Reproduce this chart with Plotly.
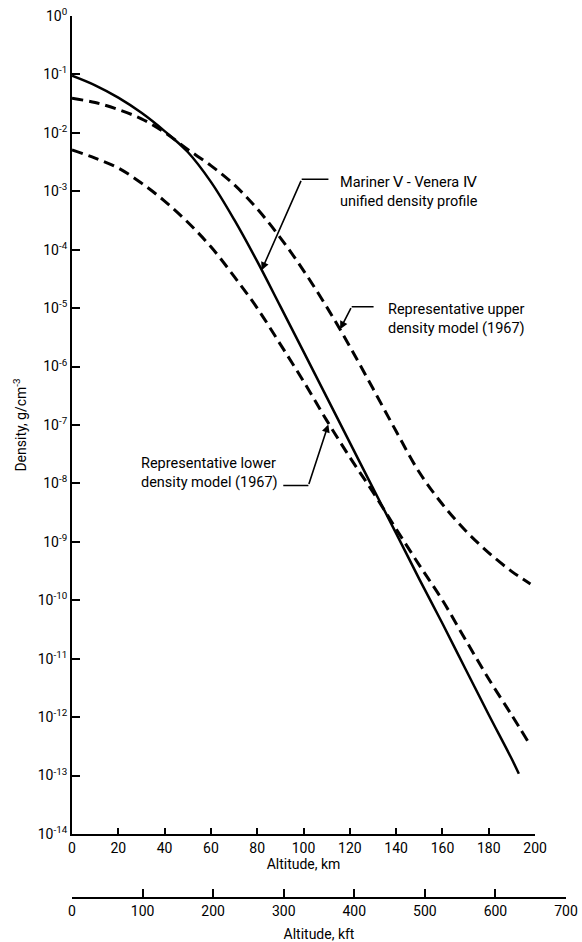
import plotly.graph_objects as go

# ---- data ----
mariner_km = [0, 10, 20, 30, 40, 50, 60, 70, 80, 90, 100, 110, 120, 130, 140, 150, 160, 170, 180, 190, 193]
mariner_density = [9.5e-2, 6.5e-2, 4.0e-2, 2.2e-2, 1.07e-2, 4.7e-3, 1.45e-3, 3.3e-4, 6.3e-5, 1.07e-5,
                   1.8e-6, 3.0e-7, 5.0e-8, 8.3e-9, 1.4e-9, 2.3e-10, 4.0e-11, 6.6e-12, 1.1e-12, 1.9e-13, 1.07e-13]

upper_km = [0, 10, 20, 30, 40, 50, 60, 70, 80, 90, 100, 110, 120, 130, 140, 150, 160, 170, 180, 190, 198]
upper_density = [3.9e-2, 3.3e-2, 2.5e-2, 1.74e-2, 1.02e-2, 5.2e-3, 2.75e-3, 1.3e-3, 5.0e-4, 1.6e-4,
                 4.4e-5, 1.05e-5, 2.2e-6, 4.2e-7, 7.8e-8, 1.55e-8, 4.4e-9, 1.55e-9, 6.5e-10, 3.1e-10, 1.9e-10]

lower_km = [0, 10, 20, 30, 40, 50, 60, 70, 80, 90, 100, 110, 120, 130, 140, 150, 160, 170, 180, 190, 197]
lower_density = [5.1e-3, 3.7e-3, 2.5e-3, 1.38e-3, 6.8e-4, 2.95e-4, 1.12e-4, 3.5e-5, 1.0e-5, 2.4e-6,
                 5.6e-7, 1.2e-7, 2.8e-8, 7.1e-9, 1.66e-9, 4.0e-10, 1.0e-10, 2.1e-11, 4.5e-12, 1.07e-12, 3.8e-13]

y_exponents = list(range(0, -15, -1))
y_tick_labels = ["10<sup>%d</sup>" % e for e in y_exponents]
km_ticks = list(range(0, 201, 20))
kft_ticks = list(range(0, 701, 100))

mariner_label = "Mariner Ⅴ - Venera Ⅳ<br>unified density profile"
upper_label = "Representative upper<br>density model (1967)"
lower_label = "Representative lower<br>density model (1967)"

FONT = "Roboto, Liberation Sans Narrow, sans-serif"

KM_PER_KFT = 0.3048

fig = go.Figure()
fig.add_trace(go.Scatter(x=mariner_km, y=mariner_density, mode="lines", line_shape="spline",
                         line=dict(color="black", width=2.5), showlegend=False, hoverinfo="skip"))
fig.add_trace(go.Scatter(x=upper_km, y=upper_density, mode="lines", line_shape="spline",
                         line=dict(color="black", width=3, dash="11px,6px"), showlegend=False, hoverinfo="skip"))
fig.add_trace(go.Scatter(x=lower_km, y=lower_density, mode="lines", line_shape="spline",
                         line=dict(color="black", width=3, dash="11px,6px"), showlegend=False, hoverinfo="skip"))
# carrier for the kft axis (no visible marks)
fig.add_trace(go.Scatter(x=[kft_ticks[0], kft_ticks[-1]], y=[None, None], xaxis="x2", yaxis="y",
                         mode="lines", showlegend=False, hoverinfo="skip"))

axis_common = dict(showline=True, linecolor="black", linewidth=2, tickcolor="black",
                   tickwidth=2, showgrid=False, zeroline=False, automargin=False,
                   ticks="inside", tickmode="array",
                   tickfont=dict(family=FONT, size=14, color="black"),
                   title_font=dict(family=FONT, size=14, color="black"))

km_frac = (200 / KM_PER_KFT) / 700.0

fig.update_layout(
    width=582, height=942,
    margin=dict(l=72, r=16, t=16, b=44),
    paper_bgcolor="white", plot_bgcolor="rgba(0,0,0,0)",
    xaxis=dict(range=[0, 200], domain=[0, km_frac], anchor="y", tickvals=km_ticks, ticklen=6,
               title=dict(text="Altitude, km", standoff=4), **axis_common),
    xaxis2=dict(range=[0, 700], domain=[0, 1], anchor="free", position=0, tickvals=kft_ticks, ticklen=8,
                title=dict(text="Altitude, kft", standoff=12), **axis_common),
    yaxis=dict(type="log", range=[-14, 0], domain=[64 / 882, 1], anchor="x",
               tickvals=[10 ** e for e in y_exponents], ticktext=y_tick_labels, ticklen=8,
               title=dict(text="Density, g/cm<sup>-3</sup>", standoff=8), **axis_common),
)

ann_font = dict(family=FONT, size=14.5, color="black")
lw = 1.6


def leader(tip_km, tip_log, bend_km, bend_log, end_km):
    fig.add_annotation(x=tip_km, y=tip_log, ax=bend_km, ay=bend_log, xref="x", yref="y", axref="x", ayref="y",
                       text="", showarrow=True, arrowhead=2, arrowsize=1, arrowwidth=lw,
                       arrowcolor="black", standoff=0, startstandoff=0)
    fig.add_annotation(x=bend_km, y=bend_log, ax=end_km, ay=bend_log, xref="x", yref="y", axref="x", ayref="y",
                       text="", showarrow=True, arrowhead=0, arrowwidth=lw, arrowcolor="black",
                       standoff=0, startstandoff=0)


# Mariner callout
leader(81.9, -4.35, 99.2, -2.795, 111.4)
fig.add_annotation(x=114.9, y=-3.02, xref="x", yref="y", text=mariner_label, showarrow=False,
                   xanchor="left", yanchor="middle", align="left", font=ann_font)
# upper callout
leader(115.8, -5.36, 120.8, -4.975, 130.9)
fig.add_annotation(x=135.4, y=-5.19, xref="x", yref="y", text=upper_label, showarrow=False,
                   xanchor="left", yanchor="middle", align="left", font=ann_font)
# lower callout
leader(110.7, -6.99, 102.1, -8.035, 90.6)
fig.add_annotation(x=89.8, y=-7.82, xref="x", yref="y", text=lower_label, showarrow=False,
                   xanchor="right", yanchor="middle", align="left", font=ann_font)

fig.write_html("out.html")
